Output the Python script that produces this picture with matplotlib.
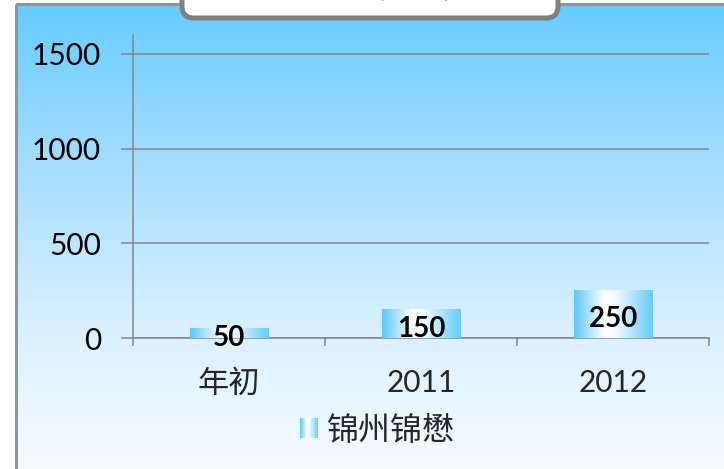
import numpy as np
import matplotlib
matplotlib.use("Agg")
import matplotlib.pyplot as plt
from matplotlib.colors import LinearSegmentedColormap
from matplotlib.patches import FancyBboxPatch

# ---- data ----
categories = ["年初", "2011", "2012"]
values = [50, 150, 250]
series_name = "锦州锦懋"
y_ticks = [0, 500, 1000, 1500]
title_text = "销售额(万元)"

LAT = ["Lato", "Noto Sans CJK SC", "DejaVu Sans"]
CJK = ["Noto Sans CJK SC", "DejaVu Sans"]

W, H = 724, 469
fig = plt.figure(figsize=(W / 100, H / 100), dpi=100)
fig.patch.set_facecolor("white")

# background axes in pixel coordinates
bg = fig.add_axes([0, 0, 1, 1])
bg.set_xlim(0, W)
bg.set_ylim(H, 0)
bg.axis("off")

bg_cmap = LinearSegmentedColormap.from_list(
    "bg", [(0.0, "#66ccff"), (0.3, "#9edbff"), (0.7, "#dbf1ff"), (1.0, "#f8fcff")])
vgrad = np.linspace(0, 1, 256).reshape(-1, 1)
bg.imshow(vgrad, cmap=bg_cmap, extent=[16, W + 5, H + 5, 4], origin="upper",
          aspect="auto", zorder=0)
bg.plot([16, 16], [4, H + 5], color="#8e969c", lw=2.2, zorder=1, solid_capstyle="butt")
bg.plot([16, W + 5], [4, 4], color="#8e969c", lw=2.2, zorder=1, solid_capstyle="butt")
bg.set_xlim(0, W)
bg.set_ylim(H, 0)

# title box (mostly cut off at top)
box = FancyBboxPatch((182, -40), 376, 58, boxstyle="round,pad=0,rounding_size=12",
                     facecolor="white", edgecolor="#7f7f7f", lw=3.6, zorder=2)
bg.add_patch(box)
bg.text(372, -5, title_text, ha="center", va="baseline", fontsize=21,
        family=CJK, color="black", zorder=3)

# bar gradient colormap (horizontal)
bar_cmap = LinearSegmentedColormap.from_list(
    "bar", [(0.0, "#5cc6fb"), (0.38, "#ffffff"), (0.52, "#f6fbff"), (1.0, "#66cbff")])
hgrad = np.linspace(0, 1, 256).reshape(1, -1)

# legend (manual)
bg.imshow(hgrad, cmap=bar_cmap, extent=[300, 318, 438, 418], aspect="auto", zorder=3)
bg.text(327, 431, series_name, ha="left", va="center", fontsize=23,
        family=CJK, color="#262626", zorder=3)
bg.set_xlim(0, W)
bg.set_ylim(H, 0)

# main axes
left, right, top, bottom = 133, 709, 35, 338
ax = fig.add_axes([left / W, 1 - bottom / H, (right - left) / W, (bottom - top) / H])
ax.set_facecolor("none")

x = np.arange(len(categories))
bars = ax.bar(x, values, width=0.41, color="none", edgecolor="none", zorder=3)
for p in bars:
    x0, w, h = p.get_x(), p.get_width(), p.get_height()
    ax.imshow(hgrad, cmap=bar_cmap, extent=[x0, x0 + w, 0, h], aspect="auto",
              zorder=3, interpolation="bilinear")

ax.set_xlim(-0.5, len(categories) - 0.5)
ax.set_ylim(0, 1600)

lbls = ax.bar_label(bars, labels=[str(v) for v in values], label_type="center",
                    fontsize=20, fontweight="bold", family=LAT, color="black", zorder=5)
for t in lbls:
    t.xyann = (0, -3.6)

gray = "#868686"
ax.set_yticks(y_ticks)
ax.set_yticklabels([str(t) for t in y_ticks], fontsize=21.5, family=LAT, color="black")
ax.yaxis.grid(True, color=gray, lw=1.1, zorder=1)
ax.set_axisbelow(True)
ax.tick_params(axis="y", direction="out", length=9, width=1.1, color=gray, pad=14)

ax.set_xticks(x)
ax.set_xticklabels(categories, fontsize=21.5, family=LAT, color="#262626")
ax.get_xticklabels()[0].set_fontsize(22.5)
ax.tick_params(axis="x", which="major", length=0, pad=22)
ax.set_xticks(np.arange(-0.5, len(categories), 1.0), minor=True)
ax.tick_params(axis="x", which="minor", direction="out", length=6, width=1.1, color=gray)

for s in ["top", "right"]:
    ax.spines[s].set_visible(False)
for s in ["left", "bottom"]:
    ax.spines[s].set_color(gray)
    ax.spines[s].set_linewidth(1.1)

fig.savefig("out.png", dpi=100, facecolor="white")
